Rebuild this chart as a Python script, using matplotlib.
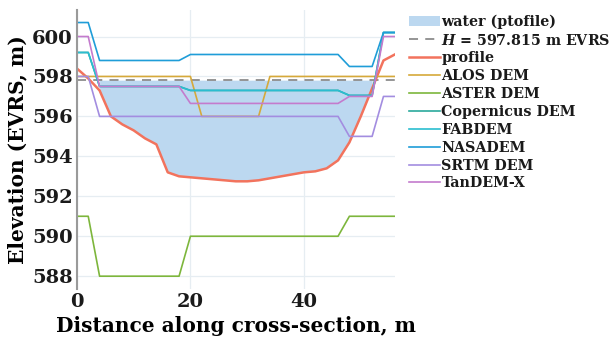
import numpy as np
import matplotlib
matplotlib.use("Agg")
import matplotlib.pyplot as plt

# cross-section data, 2 m spacing
distance = [0, 2, 4, 6, 8, 10, 12, 14, 16, 18, 20, 22, 24, 26, 28,
            30, 32, 34, 36, 38, 40, 42, 44, 46, 48, 50, 52, 54, 56]

profile = [598.4, 597.9, 597.3, 596.0, 595.6, 595.3, 594.9, 594.6, 593.2, 593.0,
           592.95, 592.9, 592.85, 592.8, 592.75, 592.75, 592.8, 592.9, 593.0, 593.1,
           593.2, 593.25, 593.4, 593.8, 594.7, 596.0, 597.4, 598.8, 599.1]

alos = [598.0] * 11 + [596.0] * 6 + [598.0] * 12
aster = [591.0] * 2 + [588.0] * 8 + [590.0] * 14 + [591.0] * 5
copernicus = [599.2] * 2 + [597.5] * 8 + [597.3] * 14 + [597.05] * 3 + [600.2] * 2
fabdem = [599.2] * 2 + [597.5] * 8 + [597.3] * 14 + [597.05] * 3 + [600.2] * 2
nasadem = [600.7] * 2 + [598.8] * 8 + [599.1] * 14 + [598.5] * 3 + [600.2] * 2
srtm = [598.0] * 2 + [596.0] * 22 + [595.0] * 3 + [597.0] * 2
tandem = [600.0] * 2 + [597.5] * 8 + [596.65] * 14 + [597.0] * 3 + [600.0] * 2

H = 597.815

dem_names = ["ALOS DEM", "ASTER DEM", "Copernicus DEM", "FABDEM",
             "NASADEM", "SRTM DEM", "TanDEM-X"]
dem_values = [alos, aster, copernicus, fabdem, nasadem, srtm, tandem]
dem_colors = ["#d6a93a", "#7db63c", "#2aa99c", "#2bbdd0",
              "#1f9dd8", "#a38de0", "#c47bcd"]

plt.rcParams['font.family'] = ['DejaVu Serif']
plt.rcParams['font.weight'] = 'bold'
plt.rcParams['mathtext.fontset'] = 'dejavuserif'
plt.rcParams['text.color'] = '#1a1a1a'

fig = plt.figure(figsize=(6.15, 3.41), dpi=100)
ax = fig.add_axes([0.125, 0.152, 0.517, 0.82])

x = np.array(distance)
prof = np.array(profile)

ax.fill_between(x, prof, H, where=prof < H, color="#bcd8f0", lw=0,
                label="water (ptofile)")
ax.axhline(H, color="#8c8c8c", ls="--", lw=1.3, dashes=(5, 4),
           label=r"$\mathit{H}$ = 597.815 m EVRS")
ax.plot(x, prof, color="#f2735d", lw=1.8, label="profile")
for name, vals, c in zip(dem_names, dem_values, dem_colors):
    ax.plot(x, vals, color=c, lw=1.2, label=name)

ax.set_xlim(0, 56)
ax.set_ylim(587.35, 601.35)
ax.set_xticks([0, 20, 40])
ax.set_yticks([588, 590, 592, 594, 596, 598, 600])
ax.grid(True, color="#e6edf2", lw=0.9)
ax.set_axisbelow(True)
ax.tick_params(length=0, labelsize=14, pad=3, colors="#1a1a1a")
for s in ["top", "right", "bottom"]:
    ax.spines[s].set_visible(False)
ax.spines["left"].set_color("#9a9a9a")
ax.spines["left"].set_linewidth(1.5)

ax.set_xlabel("Distance along cross-section, m", fontsize=14.5, fontweight='bold', labelpad=3)
ax.set_ylabel("Elevation (EVRS, m)", fontsize=14.5, fontweight='bold', labelpad=3)

fig.legend(loc="upper left", bbox_to_anchor=(0.655, 0.975), frameon=False,
           fontsize=10.3, labelspacing=0.27, handlelength=2.2, handletextpad=0.1,
           borderaxespad=0)

fig.savefig("out.png", dpi=100)
